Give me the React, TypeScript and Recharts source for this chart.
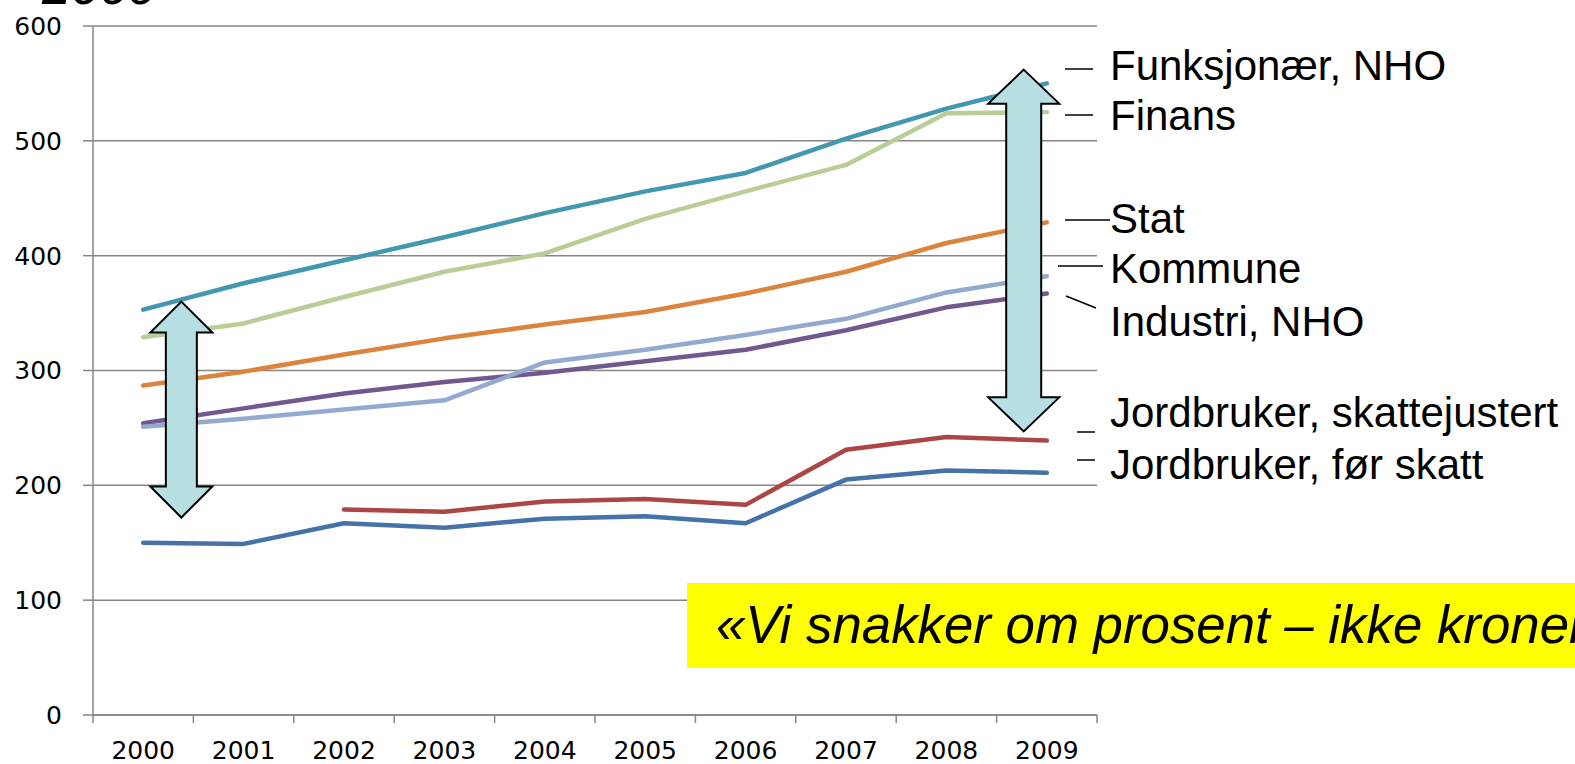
import React from 'react';

import { CartesianGrid, Line, LineChart, ReferenceLine, XAxis, YAxis } from 'recharts';

const years = ['2000', '2001', '2002', '2003', '2004', '2005', '2006', '2007', '2008', '2009'];

// index per 1000 kr
const jordbrukerForSkatt = [150, 149, 167, 163, 171, 173, 167, 205, 213, 211];
const jordbrukerSkattejustert = [null, null, 179, 177, 186, 188, 183, 231, 242, 239];
const industriNho = [254, 267, 280, 290, 298, 308, 318, 335, 355, 367];
const funksjonaerNho = [353, 376, 396, 416, 437, 456, 472, 502, 528, 550];
const stat = [287, 299, 314, 328, 340, 351, 367, 386, 411, 429];
const kommune = [251, 258, 266, 274, 307, 318, 331, 345, 368, 382];
const finans = [329, 341, 364, 386, 402, 432, 456, 479, 524, 525];

const yTicks = [0, 100, 200, 300, 400, 500, 600];

// the two double arrows, in data units (category index, value)
const arrowX = [0.38, 8.77];
const arrowTop = [360, 562];
const arrowBottom = [172, 247];

const series = [
  { key: 'jordFor', name: 'Jordbruker, før skatt', values: jordbrukerForSkatt, color: '#4572A7' },
  { key: 'jordSkatt', name: 'Jordbruker, skattejustert', values: jordbrukerSkattejustert, color: '#AA4643' },
  { key: 'industri', name: 'Industri, NHO', values: industriNho, color: '#71588F' },
  { key: 'funksjonaer', name: 'Funksjonær, NHO', values: funksjonaerNho, color: '#4198AF' },
  { key: 'stat', name: 'Stat', values: stat, color: '#DB843D' },
  { key: 'kommune', name: 'Kommune', values: kommune, color: '#93A9CF' },
  { key: 'finans', name: 'Finans', values: finans, color: '#B9CD96' },
];

// label placement on the right side: text baseline and the little leader line
const labelLayout: Record<string, { y: number; line: [number, number, number, number] }> = {
  funksjonaer: { y: 80, line: [1065, 69, 1093, 69] },
  finans: { y: 130, line: [1065, 115, 1093, 115] },
  stat: { y: 233, line: [1065, 220, 1110, 220] },
  kommune: { y: 283, line: [1058, 266, 1103, 266] },
  industri: { y: 336, line: [1066, 296, 1096, 308] },
  jordSkatt: { y: 427, line: [1077, 432, 1095, 432] },
  jordFor: { y: 479, line: [1077, 460, 1095, 460] },
};

const WIDTH = 1575;
const HEIGHT = 764;
const MARGIN = { top: 26, right: 478, bottom: 0, left: 0 };
const Y_AXIS_W = 93;
const PLOT_W = WIDTH - MARGIN.right - MARGIN.left - Y_AXIS_W;
const BAND = PLOT_W / years.length;

const tickFont = '"DejaVu Sans", Verdana, sans-serif';
const labelFont = '"Liberation Sans", Arial, sans-serif';
const gridColor = '#868686';

const data = years.map((year, i) => {
  const row: Record<string, number | string | null> = { idx: i, year };
  series.forEach((s) => {
    row[s.key] = s.values[i];
  });
  return row;
});

const boundaries = [...years.map((_, i) => i - 0.5), years.length - 0.5];

const XTick = (props: any) => {
  const { x, y, payload } = props;
  const i = Math.round(payload.value + 0.5);
  if (i < 0 || i >= years.length) return <g />;
  return (
    <text x={x + BAND / 2} y={y + 36} textAnchor="middle" fill="#000" fontSize={25} fontFamily={tickFont}>
      {years[i]}
    </text>
  );
};

const DoubleArrow = (props: any) => {
  const { x1, y1, x2, y2, headW, shaftW, headH } = props;
  const cx = (x1 + x2) / 2;
  const top = Math.min(y1, y2);
  const bottom = Math.max(y1, y2);
  const d = [
    `M${cx},${top}`,
    `L${cx + headW / 2},${top + headH}`,
    `L${cx + shaftW / 2},${top + headH}`,
    `L${cx + shaftW / 2},${bottom - headH}`,
    `L${cx + headW / 2},${bottom - headH}`,
    `L${cx},${bottom}`,
    `L${cx - headW / 2},${bottom - headH}`,
    `L${cx - shaftW / 2},${bottom - headH}`,
    `L${cx - shaftW / 2},${top + headH}`,
    `L${cx - headW / 2},${top + headH}`,
    'Z',
  ].join(' ');
  return <path d={d} fill="#B7DEE1" stroke="#000" strokeWidth={2} strokeLinejoin="miter" />;
};

const arrowSizes = [
  { headW: 62, shaftW: 31, headH: 31 },
  { headW: 71, shaftW: 35, headH: 34 },
];

export default function App() {
  return (
    <div
      style={{
        position: 'absolute',
        left: 0,
        top: 0,
        width: WIDTH,
        height: HEIGHT,
        overflow: 'hidden',
        background: '#fff',
      }}
    >
      <LineChart width={WIDTH} height={HEIGHT} data={data} margin={MARGIN}>
        <CartesianGrid vertical={false} stroke={gridColor} strokeWidth={1.5} />
        <XAxis
          type="number"
          dataKey="idx"
          domain={[-0.5, years.length - 0.5]}
          ticks={boundaries}
          interval={0}
          allowDecimals
          height={49}
          tickSize={8}
          tickMargin={0}
          stroke={gridColor}
          strokeWidth={1.5}
          tick={<XTick />}
        />
        <YAxis
          type="number"
          domain={[0, 600]}
          ticks={yTicks}
          interval={0}
          width={Y_AXIS_W}
          tickSize={10}
          tickMargin={21}
          stroke={gridColor}
          strokeWidth={1.5}
          tick={{ fill: '#000', fontSize: 25, fontFamily: tickFont }}
        />
        {series.map((s) => (
          <Line
            key={s.key}
            type="linear"
            dataKey={s.key}
            name={s.name}
            stroke={s.color}
            strokeWidth={4.5}
            strokeLinecap="round"
            strokeLinejoin="round"
            dot={false}
            activeDot={false}
            connectNulls={false}
            isAnimationActive={false}
          />
        ))}
        {arrowX.map((ax, i) => (
          <ReferenceLine
            key={`arrow-${i}`}
            segment={[
              { x: ax, y: arrowTop[i] },
              { x: ax, y: arrowBottom[i] },
            ]}
            ifOverflow="visible"
            shape={(p: any) => <DoubleArrow {...p} {...arrowSizes[i]} />}
          />
        ))}
      </LineChart>
      <svg
        width={WIDTH}
        height={HEIGHT}
        style={{ position: 'absolute', left: 0, top: 0, pointerEvents: 'none' }}
      >
        <text x={42} y={4} fontSize={52} fontStyle="italic" fontFamily={labelFont} fill="#000">
          2009
        </text>
        {series.map((s) => {
          const l = labelLayout[s.key];
          return (
            <g key={s.key}>
              <line x1={l.line[0]} y1={l.line[1]} x2={l.line[2]} y2={l.line[3]} stroke="#000" strokeWidth={1.5} />
              <text x={1110} y={l.y} fontSize={42} fontFamily={labelFont} fill="#000">
                {s.name}
              </text>
            </g>
          );
        })}
        <rect x={687} y={583} width={WIDTH - 687} height={85} fill="#FFFF00" />
        <text x={716} y={643} fontSize={52.8} fontStyle="italic" fontFamily={labelFont} fill="#000">
          «Vi snakker om prosent – ikke kroner»
        </text>
      </svg>
    </div>
  );
}
